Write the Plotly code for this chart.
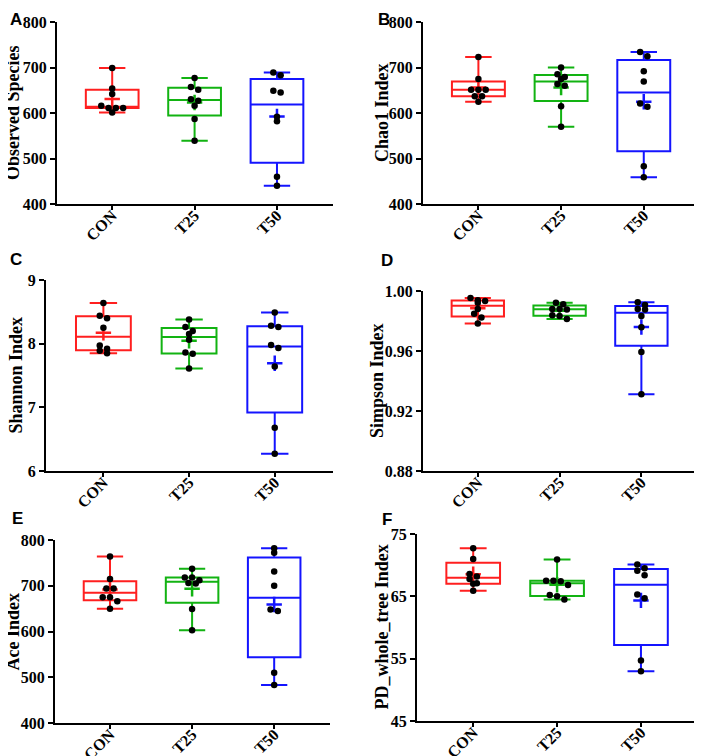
import numpy as np
import plotly.graph_objects as go

# Groups and colours
groups = ['CON', 'T25', 'T50']
colors = ['#ff1f1f', '#12b312', '#1414ff']

# Sample values per group (8 samples each)
observed = [[699, 654, 642, 616, 611, 611, 611, 601],
            [677, 657, 651, 630, 627, 616, 587, 539],
            [689, 683, 649, 645, 592, 582, 460, 440]]
chao1 = [[723, 675, 651, 651, 651, 637, 637, 625],
         [700, 685, 679, 675, 664, 660, 615, 570],
         [734, 725, 692, 669, 621, 614, 483, 459]]
shannon = [[8.64, 8.44, 8.40, 8.25, 7.97, 7.92, 7.89, 7.85],
           [8.38, 8.26, 8.20, 8.15, 8.06, 7.86, 7.84, 7.61],
           [8.49, 8.28, 8.26, 7.98, 7.93, 7.64, 6.68, 6.27]]
simpson = [[0.9953, 0.9938, 0.9933, 0.9922, 0.9880, 0.9849, 0.9824, 0.9784],
           [0.9922, 0.9911, 0.9880, 0.9876, 0.9880, 0.9838, 0.9833, 0.9813],
           [0.9925, 0.9907, 0.9880, 0.9876, 0.9833, 0.9758, 0.9593, 0.9311]]
ace = [[764, 715, 694, 694, 675, 675, 666, 650],
       [737, 718, 718, 712, 706, 705, 649, 603],
       [782, 772, 731, 700, 648, 645, 510, 483]]
pd_tree = [[72.7, 71.0, 68.6, 68.2, 67.8, 67.1, 67.0, 65.9],
           [70.9, 67.5, 67.5, 67.4, 66.8, 65.2, 65.0, 64.5],
           [70.1, 69.5, 69.1, 68.4, 65.3, 64.7, 54.7, 53.0]]

# Y-axis ticks per panel
obs_ticks = [400, 500, 600, 700, 800]
chao1_ticks = [400, 500, 600, 700, 800]
shannon_ticks = [6, 7, 8, 9]
simpson_ticks = [0.88, 0.92, 0.96, 1.00]
ace_ticks = [400, 500, 600, 700, 800]
pd_ticks = [45, 55, 65, 75]

# page is drawn with the browser's 8px body margin, so lay out in window px
OFF = 8
W, H = 702 - OFF, 756 - OFF
XRANGE = [-0.67, 2.68]
SERIF = 'Liberation Serif'
SANS = 'Liberation Sans'


def px(xp, yp):
    """window pixel -> paper coords"""
    return (xp - OFF) / W, 1 - (yp - OFF) / H


# letter, y title, data, ticks, tick format, plot box in px (x0, x1, y0, y1),
# left edge of the y title box, letter pos
panels = [
    ('A', 'Observed Species', observed, obs_ticks, '{:d}', (57, 333, 22, 204), 1, (16, 8)),
    ('B', 'Chao1 Index', chao1, chao1_ticks, '{:d}', (423, 700, 22, 204), 370, (384, 8)),
    ('C', 'Shannon Index', shannon, shannon_ticks, '{:d}', (46, 333, 280, 471), 3, (16, 259)),
    ('D', 'Simpson Index', simpson, simpson_ticks, '{:.2f}', (423, 697, 291, 471), 365, (387, 260)),
    ('E', 'Ace Index', ace, ace_ticks, '{:d}', (55, 330, 540, 723), 0, (17, 519)),
    ('F', 'PD_whole_tree Index', pd_tree, pd_ticks, '{:d}', (417, 698, 534, 721), 369, (387, 520)),
]


def swarm_offsets(vals, px_per_y, px_per_x, row_px=4.5, step_px=7.3):
    """Prism-like scatter: bin points into rows and centre each row."""
    order = sorted(range(len(vals)), key=lambda k: -vals[k])
    rows = []
    for k in order:
        if rows and (vals[rows[-1][0]] - vals[k]) * px_per_y < row_px:
            rows[-1].append(k)
        else:
            rows.append([k])
    offs = [0.0] * len(vals)
    for row in rows:
        n = len(row)
        for i, k in enumerate(row):
            offs[k] = (i - (n - 1) / 2) * step_px / px_per_x
    return offs


fig = go.Figure()
annotations = []

for i, (letter, title, data, ticks, fmt, box, tleft, lpos) in enumerate(panels):
    n = '' if i == 0 else str(i + 1)
    xref, yref = 'x' + n, 'y' + n
    x0, x1, y0, y1 = box
    yr = [ticks[0], ticks[-1]]
    px_per_y = (y1 - y0) / (yr[1] - yr[0])
    px_per_x = (x1 - x0) / (XRANGE[1] - XRANGE[0])

    for g, vals in enumerate(data):
        v = np.array(vals, dtype=float)
        q1, med, q3 = np.percentile(v, [25, 50, 75], method='weibull')
        fig.add_trace(go.Box(
            x=[g], q1=[q1], median=[med], q3=[q3],
            lowerfence=[v.min()], upperfence=[v.max()],
            width=0.64, whiskerwidth=0.5, boxpoints=False,
            line=dict(color=colors[g], width=2),
            fillcolor='rgba(0,0,0,0)', showlegend=False,
            xaxis=xref, yaxis=yref))
        fig.add_trace(go.Scatter(
            x=[g], y=[v.mean()], mode='markers',
            marker=dict(symbol='cross-thin', size=11,
                        line=dict(color=colors[g], width=2.5)),
            showlegend=False, xaxis=xref, yaxis=yref))
        offs = swarm_offsets(vals, px_per_y, px_per_x)
        fig.add_trace(go.Scatter(
            x=[g + o for o in offs], y=vals, mode='markers',
            marker=dict(color='black', size=6.5),
            showlegend=False, xaxis=xref, yaxis=yref))

    dx0, dy1 = px(x0, y0)
    dx1, dy0 = px(x1, y1)
    fig.update_layout({
        'xaxis' + n: dict(
            domain=[dx0, dx1], range=XRANGE, anchor=yref,
            automargin=False,
            tickvals=[0, 1, 2], ticktext=['<b>%s</b>' % g for g in groups],
            tickangle=-45, ticklabelstandoff=-10,
            tickfont=dict(family=SERIF, size=16, color='black'),
            showline=True, linecolor='black', linewidth=2,
            ticks='outside', ticklen=4, tickwidth=2, tickcolor='black',
            showgrid=False, zeroline=False),
        'yaxis' + n: dict(
            domain=[dy0, dy1], range=yr, anchor=xref,
            automargin=False,
            tickvals=ticks,
            ticktext=['<b>%s</b>' % fmt.format(t) for t in ticks],
            tickfont=dict(family=SERIF, size=16, color='black'),
            showline=True, linecolor='black', linewidth=2,
            ticks='outside', ticklen=5, tickwidth=2, tickcolor='black',
            showgrid=False, zeroline=False),
    })

    # y-axis title
    tx, ty = px(tleft, (y0 + y1) / 2)
    annotations.append(dict(
        text='<b>%s</b>' % title, x=tx, y=ty, textangle=-90,
        xref='paper', yref='paper', showarrow=False,
        xanchor='left', yanchor='middle',
        font=dict(family=SERIF, size=18, color='black')))

    # panel letter
    lx, ly = px(*lpos)
    annotations.append(dict(
        text='<b>%s</b>' % letter, x=lx, y=min(ly, 1), showarrow=False,
        xref='paper', yref='paper',
        xanchor='center', yanchor='top' if ly >= 1 else 'middle',
        font=dict(family=SANS, size=17, color='black')))

fig.update_layout(
    width=W, height=H, autosize=False,
    margin=dict(l=0, r=0, t=0, b=0),
    paper_bgcolor='white', plot_bgcolor='white',
    boxmode='overlay', annotations=annotations)

fig.write_html("out.html")
